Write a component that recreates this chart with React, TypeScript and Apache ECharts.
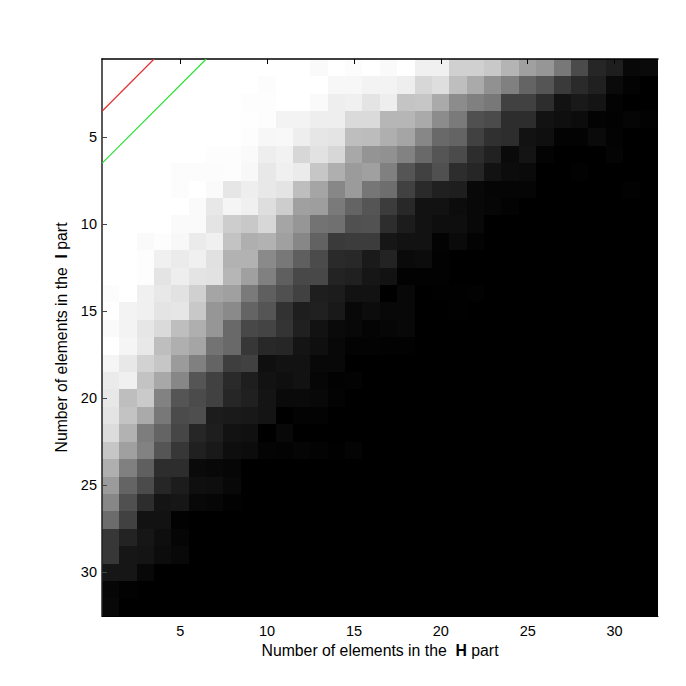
import React, { useEffect, useRef } from "react";
import * as echarts from "echarts";

const categories = Array.from({ length: 32 }, (_, i) => String(i + 1));

const row01 = [255,255,255,255,255,255,255,255,255,255,255,255,250,255,252,255,250,255,240,240,208,208,200,180,160,150,120,75,38,30,8,10];
const row02 = [255,255,255,255,255,255,255,255,255,252,255,255,255,247,247,243,243,238,215,222,190,170,145,128,100,85,58,42,32,10,3,0];
const row03 = [255,255,255,255,255,255,255,255,253,253,255,255,250,238,240,228,238,196,198,170,140,128,120,65,65,45,18,25,20,3,0,0];
const row04 = [255,255,255,255,255,255,255,255,254,253,243,243,238,238,218,218,182,182,170,140,122,80,75,45,45,18,15,12,3,2,5,2];
const row05 = [255,255,255,255,255,255,255,255,253,247,248,238,230,228,190,188,175,165,135,105,100,65,48,45,18,15,3,3,10,3,0,0];
const row06 = [255,255,255,255,255,255,253,253,250,238,242,215,226,215,168,148,145,130,105,85,75,45,33,10,20,3,0,0,0,4,0,0];
const row07 = [255,255,255,255,252,252,252,253,248,232,240,235,198,175,155,160,128,85,65,80,45,38,18,12,10,0,0,2,0,0,0,0];
const row08 = [255,255,255,255,252,255,250,230,238,232,228,190,165,135,155,118,110,65,42,32,30,8,5,5,5,0,0,0,0,0,2,0];
const row09 = [255,255,255,255,255,250,232,245,240,222,205,160,158,122,100,85,60,40,18,18,12,8,6,3,0,0,0,0,0,0,0,0];
const row10 = [255,255,255,255,250,250,228,205,200,215,165,150,115,112,80,82,45,28,18,14,14,8,0,0,0,0,0,0,0,0,0,0];
const row11 = [255,255,250,253,248,235,240,195,175,178,160,135,98,58,60,60,22,18,18,3,10,3,0,0,0,0,0,0,0,0,0,0];
const row12 = [255,255,253,240,235,240,225,178,178,138,120,95,75,42,40,26,35,10,12,2,0,0,0,0,0,0,0,0,0,0,0,0];
const row13 = [255,255,253,228,238,228,226,182,160,128,95,72,72,35,32,22,18,2,2,2,0,0,0,0,0,0,0,0,0,0,0,0];
const row14 = [252,255,240,232,226,208,165,160,122,95,80,65,30,28,18,18,0,8,0,1,1,2,0,0,0,0,0,0,0,0,0,0];
const row15 = [255,243,240,228,230,200,150,138,100,85,50,30,32,25,8,12,8,8,0,0,1,0,0,0,0,0,0,0,0,0,0,0];
const row16 = [250,243,230,218,190,175,150,105,72,68,52,32,18,10,8,4,6,8,0,0,0,0,0,0,0,0,0,0,0,0,0,0];
const row17 = [255,245,232,190,175,165,115,105,55,40,38,20,15,8,3,3,2,2,0,0,0,0,0,0,0,0,0,0,0,0,0,0];
const row18 = [245,232,210,198,155,128,100,62,65,15,18,18,8,8,0,0,0,0,0,0,0,0,0,0,0,0,0,0,0,0,0,0];
const row19 = [235,240,195,168,135,85,65,42,30,18,15,18,6,2,3,0,0,0,0,0,0,0,0,0,0,0,0,0,0,0,0,0];
const row20 = [232,190,202,130,85,75,65,38,32,20,10,10,8,3,0,0,0,0,0,0,0,0,0,0,0,0,0,0,0,0,0,0];
const row21 = [228,195,170,120,75,78,28,26,24,20,0,3,3,0,0,0,0,0,0,0,0,0,0,0,0,0,0,0,0,0,0,0];
const row22 = [220,178,125,100,70,38,30,18,16,0,8,0,0,0,0,0,0,0,0,0,0,0,0,0,0,0,0,0,0,0,0,0];
const row23 = [198,160,130,85,55,32,25,14,12,4,3,5,3,1,4,0,0,0,0,0,0,0,0,0,0,0,0,0,0,0,0,0];
const row24 = [175,128,95,45,45,10,8,6,0,0,0,0,0,0,0,0,0,0,0,0,0,0,0,0,0,0,0,0,0,0,0,0];
const row25 = [155,100,75,38,28,15,14,8,0,0,0,0,0,0,0,0,0,0,0,0,0,0,0,0,0,0,0,0,0,0,0,0];
const row26 = [135,80,45,20,22,8,6,2,0,0,0,0,0,0,0,0,0,0,0,0,0,0,0,0,0,0,0,0,0,0,0,0];
const row27 = [108,65,18,18,2,0,0,0,0,0,0,0,0,0,0,0,0,0,0,0,0,0,0,0,0,0,0,0,0,0,0,0];
const row28 = [55,35,22,14,5,0,0,0,0,0,0,0,0,0,0,0,0,0,0,0,0,0,0,0,0,0,0,0,0,0,0,0];
const row29 = [55,22,20,12,8,0,0,0,0,0,0,0,0,0,0,0,0,0,0,0,0,0,0,0,0,0,0,0,0,0,0,0];
const row30 = [22,22,8,0,0,0,0,0,0,0,0,0,0,0,0,0,0,0,0,0,0,0,0,0,0,0,0,0,0,0,0,0];
const row31 = [6,2,0,0,0,0,0,0,0,0,0,0,0,0,0,0,0,0,0,0,0,0,0,0,0,0,0,0,0,0,0,0];
const row32 = [8,0,0,0,0,0,0,0,0,0,0,0,0,0,0,0,0,0,0,0,0,0,0,0,0,0,0,0,0,0,0,0];

const rows = [
  row01, row02, row03, row04, row05, row06, row07, row08,
  row09, row10, row11, row12, row13, row14, row15, row16,
  row17, row18, row19, row20, row21, row22, row23, row24,
  row25, row26, row27, row28, row29, row30, row31, row32,
];

const redLine = [[0.5, 3.5], [3.5, 0.5]];
const greenLine = [[0.5, 6.5], [6.5, 0.5]];

const FONT = "'Liberation Sans', Arial, sans-serif";
const everyFifth = (index: number) => (index + 1) % 5 === 0;

export default function App() {
  const ref = useRef<HTMLDivElement>(null);
  useEffect(() => {
    const chart = echarts.init(ref.current!, null, { renderer: "svg" });
    const cells: number[][] = [];
    rows.forEach((row, y) => row.forEach((v, x) => cells.push([x, y, v])));
    const rich = {
      n: { fontFamily: FONT, fontSize: 15.8, color: "#000" },
      b: { fontFamily: FONT, fontSize: 15.8, fontWeight: "bold", color: "#000" },
    };
    const tick = { show: true, inside: true, length: 5, alignWithLabel: true, interval: everyFifth, lineStyle: { color: "#000", width: 1 } };
    const hiddenValue = { type: "value", min: 0.5, max: 32.5, show: false };
    chart.setOption({
      animation: false,
      backgroundColor: "#fff",
      grid: { left: 102, top: 59, width: 556, height: 557 },
      visualMap: {
        show: false, min: 0, max: 255, seriesIndex: 0, dimension: 2,
        inRange: { color: ["#000000", "#ffffff"] },
      },
      xAxis: [
        {
          type: "category", data: categories, position: "bottom", z: 4,
          name: "{n|Number of elements in the  }{b|H}{n| part}",
          nameLocation: "middle", nameGap: 24, nameTextStyle: { rich },
          axisLine: { show: true, lineStyle: { color: "#000", width: 1 } },
          axisTick: tick,
          splitLine: { show: false },
          axisLabel: { interval: everyFifth, margin: 7, fontFamily: FONT, fontSize: 14.5, color: "#000" },
        },
        {
          type: "category", data: categories, position: "top", z: 4,
          axisLine: { show: true, lineStyle: { color: "#000", width: 1.5 } },
          axisTick: tick, axisLabel: { show: false }, splitLine: { show: false },
        },
        hiddenValue,
      ],
      yAxis: [
        {
          type: "category", data: categories, inverse: true, position: "left", z: 4,
          name: "{n|Number of elements in the  }{b|I}{n| part}",
          nameLocation: "middle", nameGap: 28, nameRotate: 90, nameTextStyle: { rich },
          axisLine: { show: true, lineStyle: { color: "#222", width: 1.5 } },
          axisTick: { ...tick, lineStyle: { color: "#444", width: 1 } },
          splitLine: { show: false },
          axisLabel: { interval: everyFifth, margin: 5, fontFamily: FONT, fontSize: 14.5, color: "#000" },
        },
        { ...hiddenValue, inverse: true },
      ],
      series: [
        {
          type: "heatmap", xAxisIndex: 0, yAxisIndex: 0, data: cells,
          itemStyle: { borderWidth: 0 }, emphasis: { disabled: true },
        },
        {
          type: "line", xAxisIndex: 2, yAxisIndex: 1, data: redLine, symbol: "none", z: 5,
          lineStyle: { color: "#e03030", width: 1.2 },
        },
        {
          type: "line", xAxisIndex: 2, yAxisIndex: 1, data: greenLine, symbol: "none", z: 5,
          lineStyle: { color: "#2fe03a", width: 1.2 },
        },
      ],
    });
    return () => chart.dispose();
  }, []);
  return (
    <>
      <style>{`svg path:not([fill="none"]) { shape-rendering: crispEdges; }`}</style>
      <div ref={ref} style={{ position: "fixed", left: 0, top: 0, width: 686, height: 686 }} />
    </>
  );
}
